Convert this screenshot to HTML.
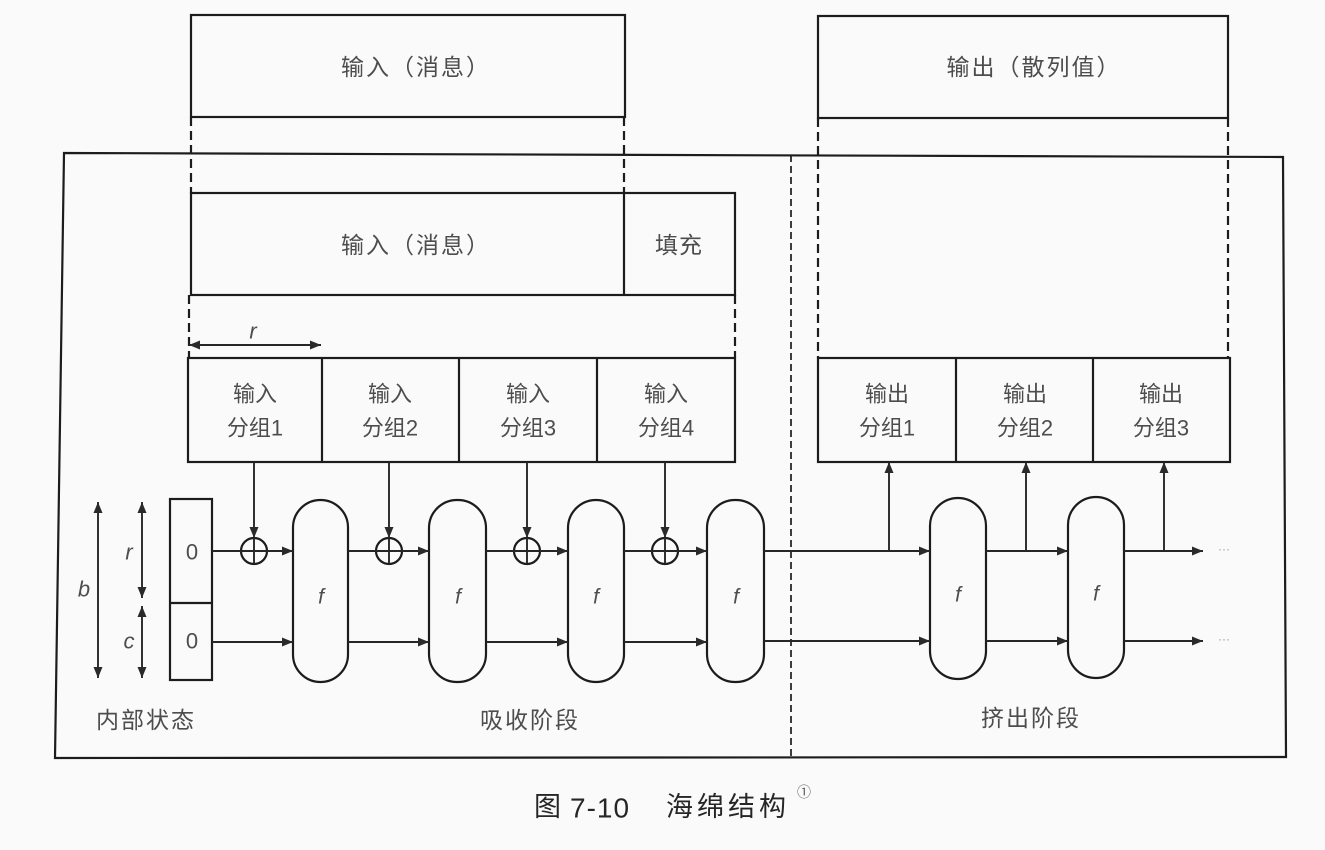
<!DOCTYPE html>
<html>
<head>
<meta charset="utf-8">
<style>
  html,body{margin:0;padding:0;background:#fafafa;}
  svg{display:block;}
  .t{font-family:"Liberation Sans","Noto Sans CJK SC",sans-serif;fill:#4d4d4d;}
  .cap{font-family:"Liberation Sans","Noto Sans CJK SC",sans-serif;fill:#262626;}
</style>
</head>
<body>
<svg width="1325" height="850" viewBox="0 0 1325 850" xmlns="http://www.w3.org/2000/svg">
  <defs>
    <marker id="ah" viewBox="0 0 11 9" refX="11" refY="4.5" markerWidth="12" markerHeight="9" markerUnits="userSpaceOnUse" orient="auto-start-reverse">
      <path d="M0,0 L11,4.5 L0,9 Z" fill="#2a2a2a"/>
    </marker>
  </defs>
  <rect width="1325" height="850" fill="#fafafa"/>

  <g stroke="#1c1c1c" stroke-width="2.2" fill="none">
    <rect x="191" y="15" width="434" height="102"/>
    <path d="M64,153 L1283,157 L1286,757 L55,758 Z"/>
    <rect x="191" y="193" width="544" height="102"/>
    <line x1="624" y1="193" x2="624" y2="295"/>
    <rect x="188" y="358" width="547" height="104"/>
    <line x1="322" y1="358" x2="322" y2="462"/>
    <line x1="459" y1="358" x2="459" y2="462"/>
    <line x1="597" y1="358" x2="597" y2="462"/>
    <rect x="818" y="16" width="410" height="102"/>
    <rect x="818" y="358" width="412" height="104"/>
    <line x1="956" y1="358" x2="956" y2="462"/>
    <line x1="1093" y1="358" x2="1093" y2="462"/>
    <rect x="170" y="499" width="42" height="181"/>
    <line x1="170" y1="603" x2="212" y2="603"/>
    <rect x="293" y="500" width="55" height="182" rx="27.5" ry="27.5"/>
    <rect x="429" y="500" width="57" height="182" rx="28" ry="28"/>
    <rect x="568" y="500" width="56" height="182" rx="28" ry="28"/>
    <rect x="707" y="500" width="57" height="182" rx="28" ry="28"/>
    <rect x="930" y="498" width="56" height="181" rx="28" ry="28"/>
    <rect x="1068" y="497" width="56" height="181" rx="28" ry="28"/>
    <circle cx="254" cy="551" r="13"/>
    <circle cx="389" cy="551" r="13"/>
    <circle cx="527" cy="551" r="13"/>
    <circle cx="665" cy="551" r="13"/>
  </g>

  <g stroke="#1c1c1c" stroke-width="2.2" fill="none" stroke-dasharray="9,5">
    <line x1="191" y1="117" x2="191" y2="193"/>
    <line x1="624" y1="117" x2="624" y2="193"/>
    <line x1="189" y1="295" x2="189" y2="358"/>
    <line x1="735" y1="295" x2="735" y2="358"/>
    <line x1="818" y1="118" x2="818" y2="358"/>
    <line x1="1228" y1="118" x2="1228" y2="358"/>
  </g>
  <line x1="791" y1="155" x2="791" y2="758" stroke="#1c1c1c" stroke-width="1.7" stroke-dasharray="7,4"/>

  <g stroke="#262626" stroke-width="1.9" fill="none">
    <line x1="254" y1="538" x2="254" y2="564"/>
    <line x1="389" y1="538" x2="389" y2="564"/>
    <line x1="527" y1="538" x2="527" y2="564"/>
    <line x1="665" y1="538" x2="665" y2="564"/>

    <line x1="254" y1="462" x2="254" y2="538" marker-end="url(#ah)"/>
    <line x1="389" y1="462" x2="389" y2="538" marker-end="url(#ah)"/>
    <line x1="527" y1="462" x2="527" y2="538" marker-end="url(#ah)"/>
    <line x1="665" y1="462" x2="665" y2="538" marker-end="url(#ah)"/>

    <line x1="212" y1="551" x2="241" y2="551"/>
    <line x1="241" y1="551" x2="293" y2="551" marker-end="url(#ah)"/>
    <line x1="348" y1="551" x2="429" y2="551" marker-end="url(#ah)"/>
    <line x1="486" y1="551" x2="568" y2="551" marker-end="url(#ah)"/>
    <line x1="624" y1="551" x2="707" y2="551" marker-end="url(#ah)"/>
    <line x1="764" y1="551" x2="930" y2="551" marker-end="url(#ah)"/>
    <line x1="986" y1="551" x2="1068" y2="551" marker-end="url(#ah)"/>
    <line x1="1124" y1="551" x2="1203" y2="551" marker-end="url(#ah)"/>

    <line x1="212" y1="642" x2="293" y2="642" marker-end="url(#ah)"/>
    <line x1="348" y1="642" x2="429" y2="642" marker-end="url(#ah)"/>
    <line x1="486" y1="642" x2="568" y2="642" marker-end="url(#ah)"/>
    <line x1="624" y1="642" x2="707" y2="642" marker-end="url(#ah)"/>
    <line x1="764" y1="641" x2="930" y2="641" marker-end="url(#ah)"/>
    <line x1="986" y1="641" x2="1068" y2="641" marker-end="url(#ah)"/>
    <line x1="1124" y1="641" x2="1203" y2="641" marker-end="url(#ah)"/>

    <line x1="889" y1="551" x2="889" y2="462" marker-end="url(#ah)"/>
    <line x1="1026" y1="551" x2="1026" y2="462" marker-end="url(#ah)"/>
    <line x1="1164" y1="551" x2="1164" y2="462" marker-end="url(#ah)"/>

    <line x1="189" y1="345" x2="321" y2="345" marker-start="url(#ah)" marker-end="url(#ah)"/>

    <line x1="98" y1="502" x2="98" y2="678" marker-start="url(#ah)" marker-end="url(#ah)"/>
    <line x1="142" y1="502" x2="142" y2="598" marker-start="url(#ah)" marker-end="url(#ah)"/>
    <line x1="142" y1="606" x2="142" y2="678" marker-start="url(#ah)" marker-end="url(#ah)"/>
  </g>

  <g class="t" text-anchor="middle" dominant-baseline="central">
    <text x="416" y="67" font-size="23" letter-spacing="2">输入（消息）</text>
    <text x="416" y="245" font-size="23" letter-spacing="2">输入（消息）</text>
    <text x="679" y="245" font-size="23" letter-spacing="1">填充</text>
    <text x="1034" y="67" font-size="23" letter-spacing="2">输出（散列值）</text>

    <text x="255" y="394" font-size="22">输入</text>
    <text x="255" y="428" font-size="22">分组1</text>
    <text x="390" y="394" font-size="22">输入</text>
    <text x="390" y="428" font-size="22">分组2</text>
    <text x="528" y="394" font-size="22">输入</text>
    <text x="528" y="428" font-size="22">分组3</text>
    <text x="666" y="394" font-size="22">输入</text>
    <text x="666" y="428" font-size="22">分组4</text>

    <text x="887" y="394" font-size="22">输出</text>
    <text x="887" y="428" font-size="22">分组1</text>
    <text x="1025" y="394" font-size="22">输出</text>
    <text x="1025" y="428" font-size="22">分组2</text>
    <text x="1161" y="394" font-size="22">输出</text>
    <text x="1161" y="428" font-size="22">分组3</text>

    <text x="253" y="331" font-size="22" font-style="italic">r</text>
    <text x="84" y="589" font-size="22" font-style="italic">b</text>
    <text x="129" y="552" font-size="22" font-style="italic">r</text>
    <text x="129" y="641" font-size="22" font-style="italic">c</text>
    <text x="192" y="552" font-size="22">0</text>
    <text x="192" y="641" font-size="22">0</text>

    <text x="321" y="597" font-size="21" font-style="italic">f</text>
    <text x="458" y="597" font-size="21" font-style="italic">f</text>
    <text x="596" y="597" font-size="21" font-style="italic">f</text>
    <text x="736" y="597" font-size="21" font-style="italic">f</text>
    <text x="958" y="595" font-size="21" font-style="italic">f</text>
    <text x="1096" y="594" font-size="21" font-style="italic">f</text>

    <text x="1224" y="549" font-size="12" fill="#999">···</text>
    <text x="1224" y="639" font-size="12" fill="#999">···</text>

    <text x="146" y="720" font-size="23" letter-spacing="2">内部状态</text>
    <text x="530" y="720" font-size="23" letter-spacing="2">吸收阶段</text>
    <text x="1031" y="718" font-size="23" letter-spacing="2">挤出阶段</text>
  </g>

  <g class="cap" dominant-baseline="central">
    <text x="534" y="807" font-size="27">图</text>
    <text x="570" y="808" font-size="28" letter-spacing="1">7-10</text>
    <text x="666" y="807" font-size="27" letter-spacing="4">海绵结构</text>
    <text x="797" y="792" font-size="14" fill="#555">①</text>
  </g>
</svg>
</body>
</html>
